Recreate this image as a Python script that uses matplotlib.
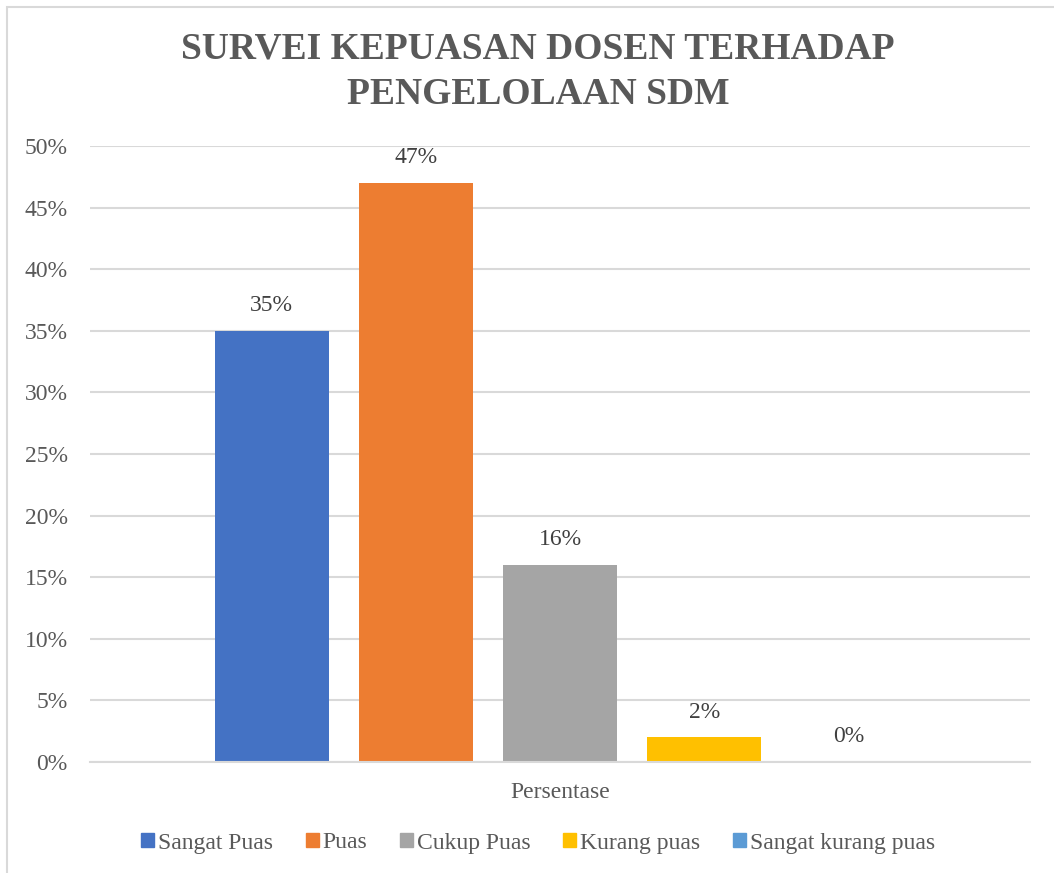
import matplotlib.pyplot as plt
from matplotlib.patches import Rectangle
import numpy as np

categories = ["Sangat Puas", "Puas", "Cukup Puas", "Kurang puas", "Sangat kurang puas"]
values = [0.35, 0.47, 0.16, 0.02, 0.0]
labels = ["35%", "47%", "16%", "2%", "0%"]
colors = ["#4472C4", "#ED7D31", "#A5A5A5", "#FFC000", "#5B9BD5"]
yticks = [0, 0.05, 0.10, 0.15, 0.20, 0.25, 0.30, 0.35, 0.40, 0.45, 0.50]
ytick_labels = ["0%", "5%", "10%", "15%", "20%", "25%", "30%", "35%", "40%", "45%", "50%"]

plt.rcParams['font.family'] = ['Liberation Serif', 'DejaVu Serif']

W, H = 1054, 873
fig = plt.figure(figsize=(W/100, H/100), dpi=100)

# chart border (Excel style)
fig.patches.append(Rectangle((7/W, -0.05), 1.2, (H-7)/H + 0.05, transform=fig.transFigure,
                             fill=False, edgecolor="#d9d9d9", linewidth=1.5))

ax = fig.add_axes([90/W, 111/H, 940/W, 616/H])

x = np.arange(len(values))
bars = ax.bar(x, values, width=0.79, color=colors)

for xi, v, lab in zip(x, values, labels):
    ax.text(xi, v + 0.012, lab, ha="center", va="bottom", fontsize=17, color="#404040")

ax.set_xlim(-1.26, len(values) - 1 + 1.26)
ax.set_ylim(0, 0.5)
ax.set_yticks(yticks)
ax.set_yticklabels(ytick_labels, fontsize=17, color="#595959")
ax.tick_params(axis="y", length=0, pad=16)
ax.set_xticks([])
ax.grid(axis="y", color="#d9d9d9", linewidth=1.5)
ax.set_axisbelow(True)
for s in ["top", "right", "left"]:
    ax.spines[s].set_visible(False)
ax.spines["bottom"].set_color("#d9d9d9")
ax.spines["bottom"].set_linewidth(1.5)

fig.text(560/W, 1 - 792/H, "Persentase", ha="center", va="center", fontsize=17, color="#595959")

fig.text(538/W, 1 - 72/H, "SURVEI KEPUASAN DOSEN TERHADAP\nPENGELOLAAN SDM", ha="center",
         va="center", fontsize=27, fontweight="bold", color="#595959", linespacing=1.38)

handles = [Rectangle((0, 0), 1, 1, color=c) for c in colors]
fig.legend(handles, categories, loc="center", bbox_to_anchor=(538/W, 1 - 843/H), ncol=5,
           frameon=False, fontsize=17, handlelength=0.55, handleheight=0.55,
           handletextpad=0.15, columnspacing=1.4, labelcolor="#595959")

plt.savefig("out.png", dpi=100)
